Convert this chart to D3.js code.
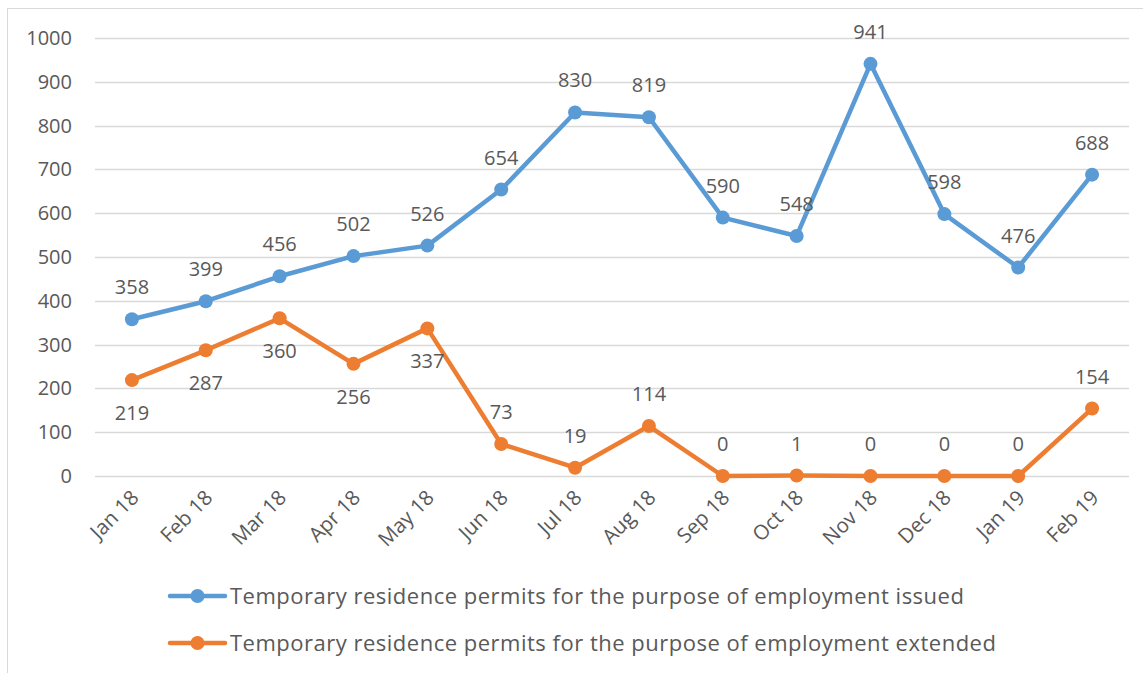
<!DOCTYPE html>
<html>
<head>
<meta charset="utf-8">
<script src="https://cdn.jsdelivr.net/npm/d3@7"></script>
<style>
  body { margin: 0; background: #fff; }
  text { font-family: "Open Sans", sans-serif; fill: #595959; }
</style>
</head>
<body>
<div id="chart"></div>
<script>
"use strict";

const months = ["Jan 18", "Feb 18", "Mar 18", "Apr 18", "May 18", "Jun 18", "Jul 18",
  "Aug 18", "Sep 18", "Oct 18", "Nov 18", "Dec 18", "Jan 19", "Feb 19"];
const issued = [358, 399, 456, 502, 526, 654, 830, 819, 590, 548, 941, 598, 476, 688];
const extended = [219, 287, 360, 256, 337, 73, 19, 114, 0, 1, 0, 0, 0, 154];
const yTicks = [0, 100, 200, 300, 400, 500, 600, 700, 800, 900, 1000];
const seriesNames = [
  "Temporary residence permits for the purpose of employment issued",
  "Temporary residence permits for the purpose of employment extended"
];
// labels placed below the point for the extended series
const belowLabels = [true, true, true, true, true, false, false, false, false, false, false, false, false, false];

const width = 1143;
const height = 673;
const colors = ["#5b9bd5", "#ed7d31"];
const font = "'Open Sans', sans-serif";

let svg = d3.select("#chart")
  .append("svg")
  .attr("width", width)
  .attr("height", height);

// outer frame
svg.append("rect")
  .attr("x", 7.5).attr("y", 8.5)
  .attr("width", 1150).attr("height", 680)
  .attr("fill", "none")
  .attr("stroke", "#d9d9d9");

const x = d3.scaleBand()
  .domain(months)
  .range([95, 1129]);

const y = d3.scaleLinear()
  .domain([0, 1000])
  .range([476, 38]);

// gridlines
svg.append("g")
  .selectAll("line")
  .data(yTicks)
  .enter()
  .append("line")
  .attr("x1", 95).attr("x2", 1129)
  .attr("y1", d => Math.round(y(d)) + 0.5)
  .attr("y2", d => Math.round(y(d)) + 0.5)
  .attr("stroke", "#d9d9d9")
  .attr("stroke-width", 1.3);

// y axis
const yAxis = svg.append("g")
  .attr("transform", "translate(84,0)")
  .call(d3.axisLeft(y).tickValues(yTicks).tickFormat(d3.format("d")).tickSize(0).tickPadding(12));
yAxis.select(".domain").remove();
yAxis.selectAll("text")
  .attr("font-size", 20)
  .attr("fill", "#595959")
  .attr("font-family", font);

// x axis
const xAxis = svg.append("g")
  .attr("transform", "translate(0,476)")
  .call(d3.axisBottom(x).tickSize(0).tickPadding(0));
xAxis.select(".domain").remove();
xAxis.selectAll("text")
  .attr("font-size", 20.5)
  .attr("fill", "#595959")
  .attr("font-family", font)
  .attr("text-anchor", "end")
  .attr("dy", null)
  .attr("transform", "translate(8,23) rotate(-45)");

const cx = d => x(d) + x.bandwidth() / 2;
const line = d3.line()
  .x(d => cx(d.m))
  .y(d => y(d.v));

const series = [issued, extended].map((vals, i) => ({
  name: seriesNames[i],
  color: colors[i],
  points: vals.map((v, j) => ({ m: months[j], v: v, below: i === 1 && belowLabels[j] }))
}));

series.forEach(s => {
  svg.append("path")
    .datum(s.points)
    .attr("d", line)
    .attr("fill", "none")
    .attr("stroke", s.color)
    .attr("stroke-width", 4.5)
    .attr("stroke-linejoin", "round");

  svg.append("g")
    .selectAll("circle")
    .data(s.points)
    .enter()
    .append("circle")
    .attr("cx", d => cx(d.m))
    .attr("cy", d => y(d.v))
    .attr("r", 7)
    .attr("fill", s.color);
});

series.forEach(s => {
  svg.append("g")
    .selectAll("text")
    .data(s.points)
    .enter()
    .append("text")
    .attr("x", d => cx(d.m))
    .attr("y", d => y(d.v) + (d.below ? 40 : -25))
    .attr("text-anchor", "middle")
    .attr("font-size", 20)
    .text(d => d.v);
});

// legend
const legend = svg.append("g")
  .selectAll("g")
  .data(series)
  .enter()
  .append("g")
  .attr("transform", (d, i) => "translate(170," + (596 + i * 47) + ")");

legend.append("line")
  .attr("x1", 0).attr("x2", 55)
  .attr("stroke", d => d.color)
  .attr("stroke-width", 4.5)
  .attr("stroke-linecap", "round");
legend.append("circle")
  .attr("cx", 27.5)
  .attr("r", 7)
  .attr("fill", d => d.color);
legend.append("text")
  .attr("x", 60)
  .attr("y", 8)
  .attr("font-size", 22)
  .attr("letter-spacing", 0.5)
  .text(d => d.name);
</script>
</body>
</html>
